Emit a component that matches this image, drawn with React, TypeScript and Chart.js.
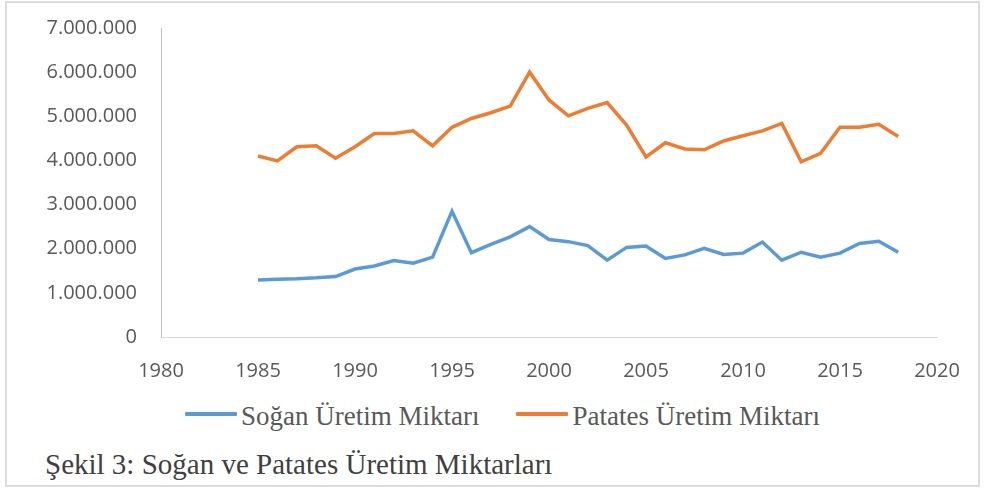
import React, { useEffect, useRef } from "react";
import { Chart, registerables } from "chart.js";

Chart.register(...registerables);

const years = [
  1985, 1986, 1987, 1988, 1989, 1990, 1991, 1992, 1993, 1994, 1995, 1996,
  1997, 1998, 1999, 2000, 2001, 2002, 2003, 2004, 2005, 2006, 2007, 2008,
  2009, 2010, 2011, 2012, 2013, 2014, 2015, 2016, 2017, 2018,
];

const soganValues = [
  1290000, 1310000, 1320000, 1340000, 1370000, 1540000, 1610000, 1730000,
  1670000, 1810000, 2850000, 1910000, 2100000, 2270000, 2500000, 2210000,
  2160000, 2070000, 1740000, 2030000, 2060000, 1780000, 1860000, 2010000,
  1870000, 1900000, 2150000, 1740000, 1920000, 1810000, 1900000, 2120000,
  2170000, 1920000,
];

const patatesValues = [
  4100000, 3990000, 4310000, 4330000, 4050000, 4310000, 4610000, 4610000,
  4670000, 4330000, 4750000, 4950000, 5080000, 5230000, 6000000, 5370000,
  5010000, 5180000, 5310000, 4800000, 4080000, 4400000, 4260000, 4240000,
  4440000, 4560000, 4670000, 4840000, 3970000, 4160000, 4750000, 4750000,
  4820000, 4540000,
];

const seriesNames = ["Soğan Üretim Miktarı", "Patates Üretim Miktarı"];
const seriesColors = ["#5B9BD5", "#ED7D31"];
const xTickValues = [1980, 1985, 1990, 1995, 2000, 2005, 2010, 2015, 2020];
const yTickValues = [0, 1000000, 2000000, 3000000, 4000000, 5000000, 6000000, 7000000];
const captionText = "Şekil 3: Soğan ve Patates Üretim Miktarları";

const formatDots = (n: number) =>
  String(Math.round(n)).replace(/\B(?=(\d{3})+(?!\d))/g, ".");

export default function App() {
  const canvasRef = useRef<HTMLCanvasElement | null>(null);

  useEffect(() => {
    document.body.style.margin = "0";
    const canvas = canvasRef.current;
    if (!canvas) return;
    const seriesValues = [soganValues, patatesValues];
    const chart = new Chart(canvas, {
      type: "line",
      data: {
        datasets: seriesNames.map((name, i) => ({
          label: name,
          data: years.map((y, j) => ({ x: y, y: seriesValues[i][j] })),
          borderColor: seriesColors[i],
          backgroundColor: seriesColors[i],
          borderWidth: 3.5,
          pointRadius: 0,
          tension: 0,
          fill: false,
        })),
      },
      options: {
        responsive: false,
        animation: false,
        layout: { padding: { left: 0, right: 48, top: 28, bottom: 0 } },
        plugins: {
          legend: { display: false },
          tooltip: { enabled: false },
        },
        scales: {
          x: {
            type: "linear",
            min: xTickValues[0],
            max: xTickValues[xTickValues.length - 1],
            afterBuildTicks: (s: any) => {
              s.ticks = xTickValues.map((v) => ({ value: v }));
            },
            afterFit: (s: any) => {
              s.height = 53;
              s.paddingLeft = 0;
              s.paddingRight = 0;
            },
            grid: { display: false, drawTicks: false },
            border: { display: true, color: "#d9d9d9", width: 1 },
            ticks: {
              padding: 22,
              color: "#595959",
              font: { family: "'Open Sans'", size: 20 },
              maxRotation: 0,
              autoSkip: false,
              callback: (v: any) => String(v),
            },
          },
          y: {
            type: "linear",
            min: yTickValues[0],
            max: yTickValues[yTickValues.length - 1],
            afterBuildTicks: (s: any) => {
              s.ticks = yTickValues.map((v) => ({ value: v }));
            },
            afterFit: (s: any) => {
              s.width = 161;
              s.paddingTop = 0;
              s.paddingBottom = 0;
            },
            grid: { display: false, drawTicks: false },
            border: { display: true, color: "#bfbfbf", width: 1 },
            ticks: {
              padding: 24,
              color: "#595959",
              font: { family: "'Open Sans'", size: 20 },
              autoSkip: false,
              callback: (v: any) => formatDots(Number(v)),
            },
          },
        },
      },
    });
    return () => chart.destroy();
  }, []);

  return (
    <div style={{ position: "relative", width: 985, height: 490, background: "#fff", overflow: "hidden" }}>
      <div
        style={{
          position: "absolute",
          left: 5,
          top: 1,
          width: 971,
          height: 482,
          border: "2px solid #dcdcdc",
        }}
      />
      <canvas
        ref={canvasRef}
        width={985}
        height={390}
        style={{ position: "absolute", left: 0, top: 0, width: 985, height: 390 }}
      />
      <div
        style={{
          position: "absolute",
          left: 185,
          top: 403,
          display: "flex",
          alignItems: "flex-start",
          fontFamily: "'Liberation Serif', 'Times New Roman', serif",
          fontSize: 27,
          lineHeight: "27px",
          color: "#595959",
          whiteSpace: "nowrap",
        }}
      >
        {seriesNames.map((name, i) => (
          <div key={name} style={{ display: "flex", alignItems: "flex-start", marginLeft: i === 0 ? 0 : 37 }}>
            <span
              style={{
                display: "inline-block",
                width: 52,
                height: 4,
                marginTop: 9,
                background: seriesColors[i],
                borderRadius: 1,
              }}
            />
            <span style={{ marginLeft: 4 }}>{name}</span>
          </div>
        ))}
      </div>
      <div
        style={{
          position: "absolute",
          left: 45,
          top: 450,
          fontFamily: "'Liberation Serif', 'Times New Roman', serif",
          fontSize: 29,
          lineHeight: "29px",
          color: "#404040",
          whiteSpace: "nowrap",
        }}
      >
        {captionText}
      </div>
    </div>
  );
}
